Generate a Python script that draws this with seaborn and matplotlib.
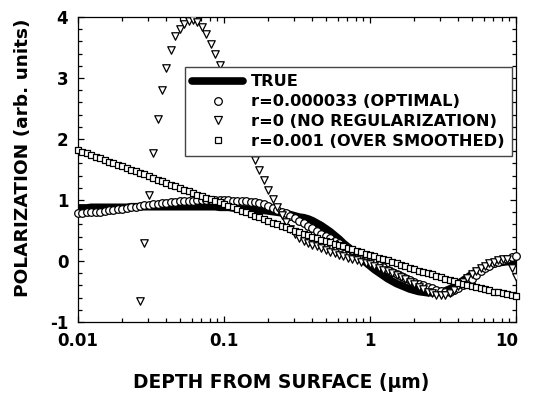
import numpy as np
import pandas as pd
import matplotlib
matplotlib.use("Agg")
import matplotlib.pyplot as plt
import matplotlib.transforms as mtrans
import seaborn as sns
from matplotlib.lines import Line2D
from matplotlib.ticker import LogLocator, MultipleLocator

# ---------------- data ----------------
depth = np.logspace(-2, 1, 100)  # sampling grid (um)

true_pol = [
    0.87, 0.87, 0.87, 0.88, 0.88, 0.88, 0.88, 0.88, 0.88, 0.88,
    0.88, 0.88, 0.89, 0.89, 0.89, 0.89, 0.89, 0.89, 0.89, 0.89,
    0.89, 0.89, 0.89, 0.89, 0.89, 0.89, 0.89, 0.89, 0.89, 0.89,
    0.89, 0.89, 0.88, 0.88, 0.88, 0.87, 0.86, 0.85, 0.85, 0.84,
    0.84, 0.83, 0.83, 0.82, 0.81, 0.80, 0.79, 0.78, 0.76, 0.74,
    0.72, 0.71, 0.69, 0.66, 0.62, 0.58, 0.53, 0.48, 0.42, 0.36,
    0.29, 0.23, 0.16, 0.10, 0.04, -0.02, -0.08, -0.14, -0.19, -0.24,
    -0.29, -0.33, -0.37, -0.40, -0.43, -0.46, -0.48, -0.50, -0.51, -0.52,
    -0.52, -0.52, -0.51, -0.49, -0.46, -0.42, -0.37, -0.32, -0.27, -0.22,
    -0.18, -0.14, -0.10, -0.07, -0.05, -0.03, -0.02, -0.01, -0.01, 0.00,
]

optimal = [
    0.79, 0.79, 0.80, 0.80, 0.81, 0.81, 0.82, 0.83, 0.84, 0.85,
    0.86, 0.87, 0.88, 0.89, 0.90, 0.91, 0.92, 0.93, 0.94, 0.95,
    0.95, 0.96, 0.97, 0.98, 0.98, 0.99, 0.99, 1.00, 1.00, 1.00,
    1.00, 1.00, 1.00, 1.00, 1.00, 0.99, 0.99, 0.98, 0.98, 0.97,
    0.97, 0.95, 0.93, 0.90, 0.87, 0.84, 0.81, 0.78, 0.74, 0.70,
    0.66, 0.62, 0.58, 0.54, 0.49, 0.45, 0.41, 0.37, 0.33, 0.29,
    0.25, 0.21, 0.18, 0.14, 0.10, 0.06, 0.02, -0.02, -0.06, -0.10,
    -0.14, -0.18, -0.22, -0.25, -0.28, -0.31, -0.34, -0.37, -0.40, -0.43,
    -0.45, -0.47, -0.49, -0.50, -0.50, -0.48, -0.45, -0.40, -0.35, -0.29,
    -0.23, -0.17, -0.12, -0.08, -0.04, -0.01, 0.02, 0.04, 0.06, 0.09,
]

no_reg = [
    -6.2, -6.6, -6.9, -7.0, -6.9, -6.6, -6.1, -5.5, -4.8, -4.1,
    -3.4, -2.7, -2.0, -1.4, -0.65, 0.29, 1.09, 1.77, 2.33, 2.80,
    3.17, 3.46, 3.69, 3.80, 3.89, 3.94, 3.95, 3.92, 3.84, 3.72,
    3.56, 3.39, 3.21, 3.02, 2.82, 2.61, 2.40, 2.20, 2.01, 1.83,
    1.66, 1.49, 1.32, 1.16, 1.02, 0.89, 0.76, 0.64, 0.53, 0.44,
    0.37, 0.33, 0.30, 0.27, 0.24, 0.21, 0.18, 0.15, 0.13, 0.10,
    0.08, 0.05, 0.03, 0.01, -0.01, -0.03, -0.05, -0.08, -0.11, -0.14,
    -0.17, -0.20, -0.23, -0.26, -0.30, -0.34, -0.38, -0.42, -0.46, -0.50,
    -0.53, -0.55, -0.56, -0.55, -0.52, -0.47, -0.41, -0.34, -0.28, -0.22,
    -0.17, -0.12, -0.08, -0.04, -0.01, 0.02, 0.04, 0.03, -0.12, -0.26,
]

over_smoothed = [
    1.82, 1.79, 1.77, 1.74, 1.71, 1.69, 1.66, 1.63, 1.60, 1.58,
    1.55, 1.52, 1.50, 1.47, 1.44, 1.42, 1.39, 1.36, 1.33, 1.31,
    1.28, 1.25, 1.23, 1.20, 1.17, 1.15, 1.12, 1.09, 1.07, 1.04,
    1.01, 0.98, 0.96, 0.93, 0.90, 0.88, 0.85, 0.82, 0.80, 0.77,
    0.74, 0.72, 0.69, 0.66, 0.63, 0.61, 0.58, 0.55, 0.53, 0.50,
    0.47, 0.45, 0.42, 0.40, 0.38, 0.35, 0.33, 0.31, 0.28, 0.26,
    0.24, 0.22, 0.20, 0.17, 0.15, 0.12, 0.10, 0.08, 0.05, 0.03,
    0.01, -0.02, -0.04, -0.06, -0.09, -0.11, -0.13, -0.16, -0.18, -0.20,
    -0.22, -0.25, -0.27, -0.29, -0.31, -0.33, -0.36, -0.38, -0.40, -0.41,
    -0.43, -0.45, -0.46, -0.48, -0.50, -0.51, -0.53, -0.54, -0.56, -0.58,
]

series_labels = ["TRUE", "r=0.000033 (OPTIMAL)",
                 "r=0 (NO REGULARIZATION)", "r=0.001 (OVER SMOOTHED)"]
x_ticks = [0.01, 0.1, 1, 10]
x_ticklabels = ["0.01", "0.1", "1", "10"]
y_ticks = [-1, 0, 1, 2, 3, 4]
y_ticklabels = ["-1", "0", "1", "2", "3", "4"]
x_label = "DEPTH FROM SURFACE (\u03bcm)"
y_label = "POLARIZATION (arb. units)"

# ---------------- style ----------------
sns.set_style("ticks")
plt.rcParams["font.family"] = ["DejaVu Sans"]
plt.rcParams["font.weight"] = "bold"
plt.rcParams["axes.unicode_minus"] = False
for k in ["text.color", "axes.labelcolor", "xtick.color", "ytick.color",
          "axes.edgecolor", "xtick.labelcolor", "ytick.labelcolor"]:
    plt.rcParams[k] = "black"

W, H = 533, 399
fig = plt.figure(figsize=(W / 100, H / 100), dpi=100)
L, R, T, B = 78, 516, 17, 322
ax = fig.add_axes([L / W, 1 - B / H, (R - L) / W, (B - T) / H])

df = pd.DataFrame({
    "depth": depth,
    "true": true_pol,
    "optimal": optimal,
    "noreg": no_reg,
    "over": over_smoothed,
})

sns.lineplot(data=df, x="depth", y="true", ax=ax, color="black", lw=5.5,
             solid_capstyle="round", errorbar=None, zorder=2)
sns.scatterplot(data=df, x="depth", y="optimal", ax=ax, marker="o", s=30,
                color="white", edgecolor="black", linewidth=0.9, zorder=3,
                clip_on=False)
sns.scatterplot(data=df, x="depth", y="noreg", ax=ax, marker="v", s=29,
                color="white", edgecolor="black", linewidth=0.9, zorder=4)
sns.scatterplot(data=df, x="depth", y="over", ax=ax, marker="s", s=22,
                color="white", edgecolor="black", linewidth=0.9, zorder=5,
                clip_on=False)

ax.set_xscale("log")
ax.set_xlim(0.01, 10)
ax.set_ylim(-1, 4)
ax.set_xticks(x_ticks, x_ticklabels)
ax.set_yticks(y_ticks, y_ticklabels)
ax.xaxis.set_minor_locator(LogLocator(base=10, subs=range(2, 10)))
ax.xaxis.set_minor_formatter(plt.NullFormatter())
ax.yaxis.set_minor_locator(MultipleLocator(0.2))
ax.tick_params(which="both", direction="in", top=True, right=True,
               color="black", width=0.9)
ax.tick_params(which="major", length=4.5)
ax.tick_params(which="minor", length=2.6)
ax.tick_params(axis="x", which="major", pad=7.5, labelsize=12,
               labelcolor="black")
ax.tick_params(axis="y", which="major", pad=7, labelsize=12,
               labelcolor="black")
for lab in ax.get_xticklabels() + ax.get_yticklabels():
    lab.set_fontweight("bold")
for sp in ax.spines.values():
    sp.set_linewidth(0.9)
    sp.set_color("black")

# last x tick label sits slightly inside the frame, as in the original
last_tick = ax.xaxis.get_major_ticks()[-1]
last_tick.label1.set_transform(
    last_tick.label1.get_transform()
    + mtrans.ScaledTranslation(-9 / 100, 0, fig.dpi_scale_trans))

ax.set_xlabel(x_label, fontsize=13.4, fontweight="bold", color="black")
ax.set_ylabel(y_label, fontsize=13.3, fontweight="bold", color="black")
ax.xaxis.set_label_coords((281 - L) / (R - L), (B - 373) / (B - T))
ax.yaxis.set_label_coords((32 - L) / (R - L), (B - 157.5) / (B - T))

handles = [
    Line2D([], [], color="black", lw=5.5, solid_capstyle="round"),
    Line2D([], [], ls="", marker="o", ms=5.5, mfc="white", mec="black", mew=0.9),
    Line2D([], [], ls="", marker="v", ms=5.4, mfc="white", mec="black", mew=0.9),
    Line2D([], [], ls="", marker="s", ms=4.7, mfc="white", mec="black", mew=0.9),
]
leg = ax.legend(handles, series_labels, loc="upper left",
                bbox_to_anchor=(185 / W, 1 - 67 / H),
                bbox_transform=fig.transFigure, fontsize=11.7,
                frameon=True, fancybox=False, framealpha=1,
                edgecolor="#444444", borderpad=0.45, handlelength=3.1,
                handletextpad=0.5, labelspacing=0.3, borderaxespad=0)
leg.get_frame().set_linewidth(1.0)
leg.set_zorder(10)
for t in leg.get_texts():
    t.set_fontweight("bold")
    t.set_color("black")

fig.savefig("out.png", dpi=100)
